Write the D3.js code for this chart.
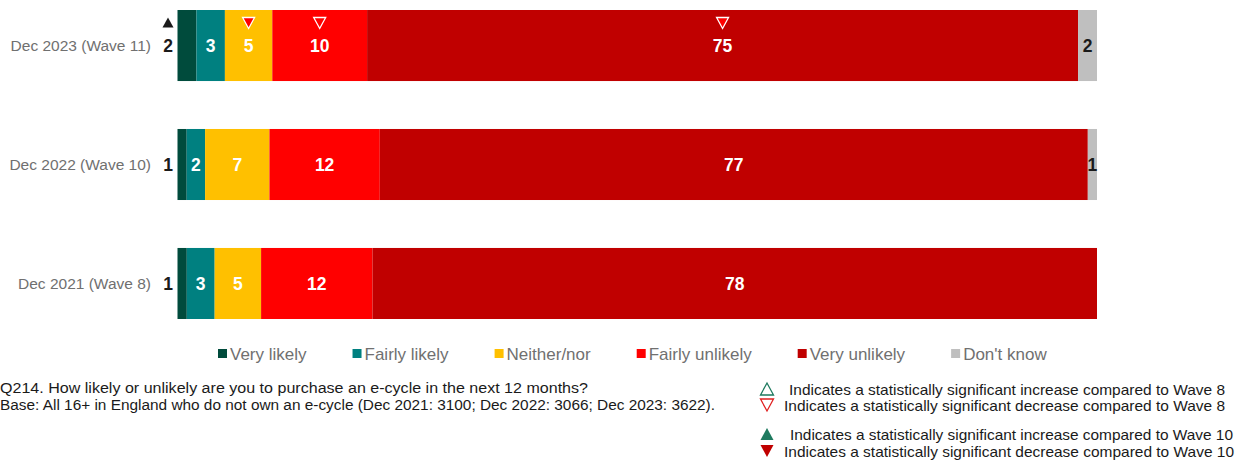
<!DOCTYPE html>
<html>
<head>
<meta charset="utf-8">
<script src="https://cdn.jsdelivr.net/npm/d3@7"></script>
<style>
  html, body { margin: 0; padding: 0; background: #fff; }
  svg { display: block; font-family: "Liberation Sans", Arial, sans-serif; }
</style>
</head>
<body>
<svg id="chart" width="1237" height="462"></svg>
<script>
// Survey waves (top to bottom)
const categories = ["Dec 2023 (Wave 11)", "Dec 2022 (Wave 10)", "Dec 2021 (Wave 8)"];

// Response shares (%) per wave, same order as categories
const veryLikely     = [2, 1, 1];
const fairlyLikely   = [3, 2, 3];
const neitherNor     = [5, 7, 5];
const fairlyUnlikely = [10, 12, 12];
const veryUnlikely   = [75, 77, 78];
const dontKnow       = [2, 1, 0];

const seriesNames  = ["Very likely", "Fairly likely", "Neither/nor", "Fairly unlikely", "Very unlikely", "Don't know"];
const seriesValues = [veryLikely, fairlyLikely, neitherNor, fairlyUnlikely, veryUnlikely, dontKnow];
const seriesColors = ["#004b3c", "#008080", "#ffc000", "#ff0000", "#c00000", "#bfbfbf"];

// Significance flags: wave index, series index, kind
const sigMarks = [
  { wave: 0, series: 0, kind: "up10" },
  { wave: 0, series: 2, kind: "down8" },
  { wave: 0, series: 3, kind: "down8" },
  { wave: 0, series: 4, kind: "down8" }
];

const noteLines = [
  "Q214. How likely or unlikely are you to purchase an e-cycle in the next 12 months?",
  "Base: All 16+ in England who do not own an e-cycle (Dec 2021: 3100; Dec 2022: 3066; Dec 2023: 3622)."
];
const keyLines = [
  { kind: "up8",    text: "Indicates a statistically significant increase compared to Wave 8" },
  { kind: "down8",  text: "Indicates a statistically significant decrease compared to Wave 8" },
  { kind: "up10",   text: "Indicates a statistically significant increase compared to Wave 10" },
  { kind: "down10", text: "Indicates a statistically significant decrease compared to Wave 10" }
];

const svg = d3.select("#chart");

// Build table rows and a 100% stack
const rows = categories.map((c, i) => {
  const r = { category: c };
  seriesNames.forEach((s, j) => { r[s] = seriesValues[j][i]; });
  return r;
});
const stack = d3.stack().keys(seriesNames).offset(d3.stackOffsetExpand);
const layers = stack(rows);

const x = d3.scaleLinear().domain([0, 1]).range([177.5, 1097]);
const y = d3.scaleBand().domain(categories).range([10, 319]).paddingInner(0.403).paddingOuter(0);
const color = d3.scaleOrdinal().domain(seriesNames).range(seriesColors);

// Bars
const g = svg.append("g");
layers.forEach(layer => {
  g.selectAll(null)
    .data(layer)
    .join("rect")
    .attr("x", d => x(d[0]))
    .attr("y", d => y(d.data.category))
    .attr("width", d => Math.max(0, x(d[1]) - x(d[0])))
    .attr("height", y.bandwidth())
    .attr("fill", color(layer.key));
});

// Value labels
layers.forEach((layer, si) => {
  layer.forEach(d => {
    const v = d.data[layer.key];
    if (!v) return;
    const cy = y(d.data.category) + y.bandwidth() / 2;
    let cx = (x(d[0]) + x(d[1])) / 2;
    let fill = "#fff";
    if (si === 0) { cx = x(0) - 9.5; fill = "#1a1a1a"; }
    if (si === 5) { fill = "#1a1a1a"; }
    svg.append("text")
      .attr("x", cx)
      .attr("y", cy)
      .attr("dy", "0.36em")
      .attr("text-anchor", "middle")
      .attr("font-size", 17.5)
      .attr("font-weight", "bold")
      .attr("fill", fill)
      .text(v);
  });
});

// Category labels
svg.selectAll(null)
  .data(categories)
  .join("text")
  .attr("x", 151)
  .attr("y", d => y(d) + y.bandwidth() / 2)
  .attr("dy", "0.35em")
  .attr("text-anchor", "end")
  .attr("font-size", 15.5)
  .attr("fill", "#707070")
  .text(d => d);

// Triangle path helper
function tri(cx, cy, w, h, up) {
  return up
    ? `M${cx - w / 2},${cy + h / 2}L${cx + w / 2},${cy + h / 2}L${cx},${cy - h / 2}Z`
    : `M${cx - w / 2},${cy - h / 2}L${cx + w / 2},${cy - h / 2}L${cx},${cy + h / 2}Z`;
}

// Significance markers on bars
sigMarks.forEach(m => {
  const d = layers[m.series][m.wave];
  const top = y(d.data.category);
  if (m.kind === "up10") {
    svg.append("path")
      .attr("d", tri(x(0) - 9.5, top + 12.5, 11, 10, true))
      .attr("fill", "#1a1a1a");
  } else {
    const cx = (x(d[0]) + x(d[1])) / 2;
    svg.append("path")
      .attr("d", tri(cx, top + 13, 12, 11, false))
      .attr("fill", "#ff0000")
      .attr("stroke", "#fff")
      .attr("stroke-width", 1.3);
  }
});

// Legend
const legend = svg.append("g").attr("font-size", 17).attr("fill", "#707070");
let lx = 218;
seriesNames.forEach(s => {
  legend.append("rect")
    .attr("x", lx).attr("y", 349).attr("width", 9).attr("height", 9)
    .attr("fill", color(s));
  const t = legend.append("text")
    .attr("x", lx + 12).attr("y", 354)
    .attr("dy", "0.35em")
    .text(s);
  lx += 12 + t.node().getComputedTextLength() + 46;
});

// Notes
const noteWidths = [588, 715];
svg.append("g")
  .selectAll("text")
  .data(noteLines)
  .join("text")
  .attr("x", 0)
  .attr("y", (d, i) => 393 + i * 17)
  .attr("font-size", 14)
  .attr("textLength", (d, i) => noteWidths[i])
  .attr("lengthAdjust", "spacingAndGlyphs")
  .attr("fill", "#1a1a1a")
  .text(d => d);

// Significance key
const keyY = [389, 405, 434, 451];
const keyX = [789, 784, 790, 784];
const keyW = [436, 441, 443, 450];
keyLines.forEach((k, i) => {
  const up = k.kind.startsWith("up");
  const filled = k.kind.endsWith("10");
  const col = up ? "#1e7a5f" : (filled ? "#c00000" : "#e02020");
  svg.append("path")
    .attr("d", tri(767, keyY[i], 13, 12, up))
    .attr("fill", filled ? col : "#fff")
    .attr("stroke", col)
    .attr("stroke-width", filled ? 0 : 1.3);
  svg.append("text")
    .attr("x", keyX[i])
    .attr("y", keyY[i] + 1)
    .attr("dy", "0.35em")
    .attr("font-size", 14.5)
    .attr("textLength", keyW[i])
    .attr("lengthAdjust", "spacingAndGlyphs")
    .attr("fill", "#1a1a1a")
    .text(k.text);
});
</script>
</body>
</html>
